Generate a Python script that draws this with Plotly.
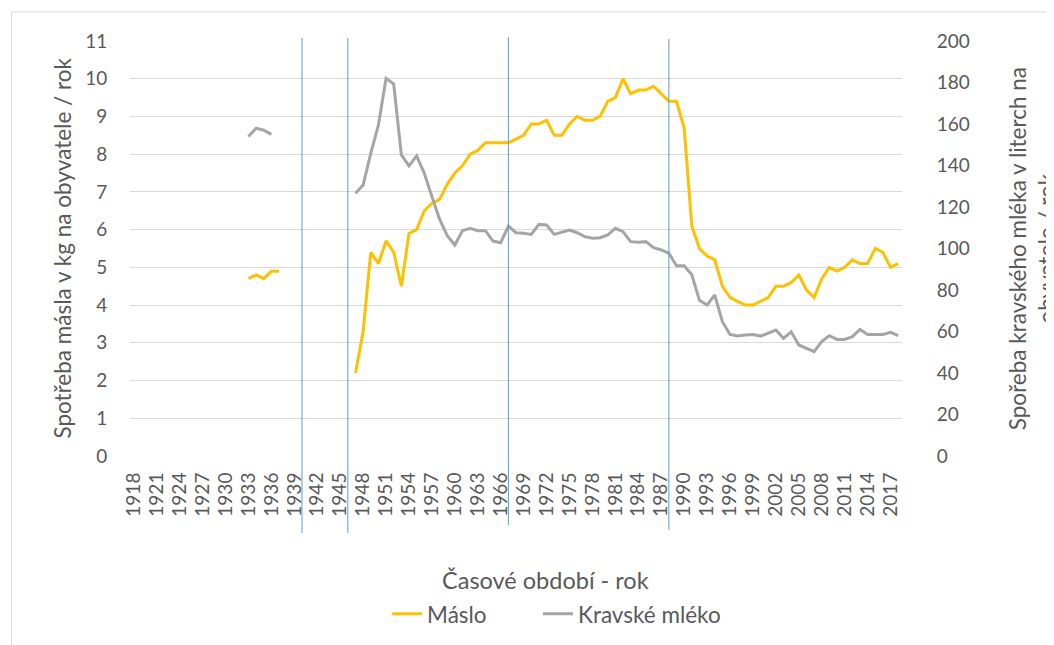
import plotly.graph_objects as go

# ---- data ----
roky = list(range(1918, 2019))
tick_roky = list(range(1918, 2018, 3))

maslo_1933 = [4.7, 4.8, 4.7, 4.9, 4.9]  # 1933-1937
maslo_1947 = [
    2.2, 3.3, 5.4, 5.1, 5.7, 5.4, 4.5, 5.9, 6.0, 6.5,   # 1947-1956
    6.7, 6.8, 7.2, 7.5, 7.7, 8.0, 8.1, 8.3, 8.3, 8.3,   # 1957-1966
    8.3, 8.4, 8.5, 8.8, 8.8, 8.9, 8.5, 8.5, 8.8, 9.0,   # 1967-1976
    8.9, 8.9, 9.0, 9.4, 9.5, 10.0, 9.6, 9.7, 9.7, 9.8,  # 1977-1986
    9.6, 9.4, 9.4, 8.7, 6.1, 5.5, 5.3, 5.2, 4.5, 4.2,   # 1987-1996
    4.1, 4.0, 4.0, 4.1, 4.2, 4.5, 4.5, 4.6, 4.8, 4.4,   # 1997-2006
    4.2, 4.7, 5.0, 4.9, 5.0, 5.2, 5.1, 5.1, 5.5, 5.4,   # 2007-2016
    5.0, 5.1,                                           # 2017-2018
]
mleko_1933 = [154, 158, 157, 155]  # 1933-1936
mleko_1947 = [
    126.6, 130.6, 145.9, 159.5, 182.0, 179.3, 145.1, 139.8, 144.6, 136.2,
    125.0, 114.1, 106.2, 101.7, 108.6, 109.7, 108.6, 108.6, 103.6, 102.8,
    110.8, 107.6, 107.3, 106.8, 111.6, 111.3, 106.8, 108.0, 108.9, 107.6,
    105.7, 104.9, 105.2, 106.5, 109.7, 108.1, 103.3, 103.0, 103.3, 100.4,
    99.3, 97.7, 91.7, 91.7, 87.3, 75.0, 72.8, 77.6, 64.7, 58.6,
    57.8, 58.3, 58.6, 57.8, 59.1, 60.7, 56.7, 59.9, 53.5, 51.9,
    50.3, 55.1, 58.0, 56.2, 56.2, 57.5, 61.0, 58.6, 58.6, 58.6,
    59.6, 58.0,
]
hranice = [1940, 1946, 1967, 1988]


def series(start_vals, start_year, late_vals, late_year):
    out = {}
    for i, v in enumerate(start_vals):
        out[start_year + i] = v
    for i, v in enumerate(late_vals):
        out[late_year + i] = v
    return [out.get(r) for r in roky]


maslo = series(maslo_1933, 1933, maslo_1947, 1947)
mleko = series(mleko_1933, 1933, mleko_1947, 1947)

FONT = "Lato"
GREY = "#595959"

fig = go.Figure()
fig.add_trace(go.Scatter(x=roky, y=maslo, name="Máslo", mode="lines",
                         line=dict(color="#FFC000", width=3), connectgaps=False,
                         legend="legend"))
fig.add_trace(go.Scatter(x=roky, y=mleko, name="Kravské mléko", mode="lines",
                         line=dict(color="#A5A5A5", width=3), connectgaps=False,
                         yaxis="y2", legend="legend2"))

shapes = []
line_ext = [(1.0072, -0.1855), (1.0072, -0.1855), (1.0096, -0.1663), (1.0048, -0.1783)]
for r, (top, bot) in zip(hranice, line_ext):
    shapes.append(dict(type="line", xref="x", yref="paper", x0=r, x1=r, y0=bot, y1=top,
                       line=dict(color="#5B9BD5", width=1)))
# chart-area border
shapes.append(dict(type="rect", xref="paper", yref="paper", x0=-0.1535, x1=1.21,
                   y0=-0.47, y1=1.070, line=dict(color="#D9D9D9", width=1),
                   fillcolor="rgba(0,0,0,0)", layer="below"))

legend_common = dict(orientation="h", xanchor="left", y=-0.381, yanchor="middle",
                     font=dict(size=22.5, color=GREY, family=FONT),
                     bgcolor="rgba(0,0,0,0)")

fig.update_layout(
    width=1054, height=645,
    margin=dict(l=122, r=160, t=33, b=197),
    paper_bgcolor="white", plot_bgcolor="white",
    font=dict(family=FONT, color=GREY, size=19),
    showlegend=True,
    legend=dict(x=0.333, **legend_common),
    legend2=dict(x=0.5285, **legend_common),
    xaxis=dict(type="linear", range=[1917.5, 2018.5], tickmode="array",
               tickvals=tick_roky, ticktext=[str(t) for t in tick_roky],
               tickangle=-90, showgrid=False, zeroline=False, showline=False,
               ticks="outside", ticklen=8, tickcolor="rgba(0,0,0,0)",
               tickfont=dict(size=19, color=GREY, family=FONT)),
    yaxis=dict(range=[0, 11], dtick=1, tick0=0, showgrid=True, gridcolor="#D9D9D9",
               gridwidth=1, zeroline=False, showline=False,
               ticks="outside", ticklen=18, tickcolor="rgba(0,0,0,0)",
               tickfont=dict(size=19, color=GREY, family=FONT)),
    yaxis2=dict(range=[0, 200], dtick=20, tick0=0, overlaying="y", side="right",
                showgrid=False, zeroline=False, showline=False,
                ticks="outside", ticklen=30, tickcolor="rgba(0,0,0,0)",
                tickfont=dict(size=19, color=GREY, family=FONT)),
    shapes=shapes,
    annotations=[
        dict(text="Spotřeba másla v kg na obyvatele / rok", xref="paper", yref="paper",
             x=-0.088, y=0.5, xanchor="center", yanchor="middle", textangle=-90,
             showarrow=False, font=dict(size=22.5, color=GREY, family=FONT)),
        dict(text="Spořeba kravského mléka v literch na<br>obyvatele / rok",
             xref="paper", yref="paper", x=1.168, y=0.5, xanchor="center",
             yanchor="middle", textangle=-90, showarrow=False,
             font=dict(size=22.5, color=GREY, family=FONT)),
        dict(text="Časové období - rok", xref="paper", yref="paper",
             x=0.5376, y=-0.299, xanchor="center", yanchor="middle",
             showarrow=False, font=dict(size=23.5, color=GREY, family=FONT)),
    ],
)

fig.write_html("out.html")
